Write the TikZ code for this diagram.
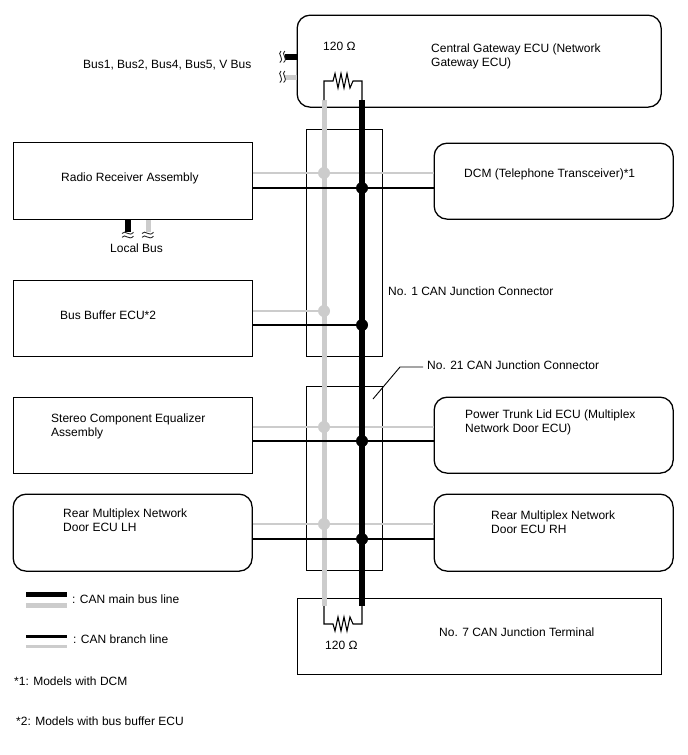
\documentclass[tikz,border=0pt]{standalone}
\usepackage{fontspec}
\setmainfont{Liberation Sans}
\newcommand{\wavesH}[2]{\foreach \d in {0,3.8}{\draw[wavemark] (#1-6,#2+\d) .. controls (#1-3,#2+\d-4.5) and (#1+1,#2+\d+4) .. (#1+5.5,#2+\d-1.2);}}
\newcommand{\wavesV}[2]{\foreach \d in {0,3.8}{\draw[wavemark] (#1+\d,#2-6) .. controls (#1+\d-4.5,#2-3) and (#1+\d+4,#2+1) .. (#1+\d-1.2,#2+5.5);}}
\tikzset{
  x=1pt,y=-1pt,
  boxnode/.style={draw=black,line width=1.3pt,inner sep=0pt,anchor=north west},
  ecu/.style={boxnode,rounded corners=13pt},
  txt/.style={font=\fontsize{12}{14}\selectfont,anchor=base west,inner sep=0pt,align=left},
  junction/.style={boxnode},
  mainblack/.style={line width=6pt,black},
  maingray/.style={line width=5pt,busgray},
  branchblack/.style={line width=2.6pt,black},
  branchgray/.style={line width=2.6pt,busgray},
  resline/.style={line width=1.1pt,black},
  wavemark/.style={line width=.9pt,black!85},
  leader/.style={line width=.9pt,black},
  dotb/.style={circle,fill=black,inner sep=0pt,minimum size=12pt},
  dotg/.style={circle,fill=busgray,inner sep=0pt,minimum size=12pt},
}
\definecolor{busgray}{HTML}{CCCCCC}
\begin{document}
\begin{tikzpicture}
\useasboundingbox (0,0) rectangle (688,755);
% junction connectors
\node[junction,minimum width=76pt,minimum height=227pt] (jone) at (305.5,129) {};
\node[junction,minimum width=76pt,minimum height=184pt] (jtwo) at (305.5,386) {};
% ECU boxes
\node[ecu,minimum width=364pt,minimum height=92pt] (gateway) at (296.5,14.5) {};
\node[boxnode,minimum width=239pt,minimum height=77pt] (radio) at (12.5,141.5) {};
\node[ecu,minimum width=239pt,minimum height=76pt] (dcm) at (433.5,142.5) {};
\node[boxnode,minimum width=239pt,minimum height=76pt] (buffer) at (12.5,279.5) {};
\node[boxnode,minimum width=239pt,minimum height=76pt] (stereo) at (12.5,396.5) {};
\node[ecu,minimum width=239pt,minimum height=76pt] (trunk) at (433.5,396.5) {};
\node[ecu,minimum width=239pt,minimum height=77pt] (rearl) at (12.5,493.5) {};
\node[ecu,minimum width=239pt,minimum height=77pt] (rearr) at (433.5,493.5) {};
\node[boxnode,minimum width=364pt,minimum height=76pt] (term) at (296.5,597.5) {};
% bus end points
\coordinate (gtop) at (324,100);
\coordinate (btop) at (362,100);
\coordinate (gbot) at (324,606);
\coordinate (bbot) at (362,606);
% main bus
\draw[maingray] (gtop) -- (gbot);
% junction dots
\node[dotg] (g1) at (324,173) {};
\node[dotg] (g2) at (324,311) {};
\node[dotg] (g3) at (324,427) {};
\node[dotg] (g4) at (324,524) {};
\draw[branchgray] (radio.east |- g1) -- (dcm.west |- g1);
\draw[branchgray] (buffer.east |- g2) -- (g2);
\draw[branchgray] (stereo.east |- g3) -- (trunk.west |- g3);
\draw[branchgray] (rearl.east |- g4) -- (rearr.west |- g4);
\draw[mainblack] (btop) -- (bbot);
\node[dotb] (b1) at (362,188) {};
\node[dotb] (b2) at (362,325) {};
\node[dotb] (b3) at (362,441) {};
\node[dotb] (b4) at (362,539) {};
\draw[branchblack] (radio.east |- b1) -- (dcm.west |- b1);
\draw[branchblack] (buffer.east |- b2) -- (b2);
\draw[branchblack] (stereo.east |- b3) -- (trunk.west |- b3);
\draw[branchblack] (rearl.east |- b4) -- (rearr.west |- b4);
% resistors
\draw[resline] (gtop) -- (324,81) -- (333,81) -- (335,73.5) -- (338,88) -- (341,73.5) -- (344,88) -- (347,73.5) -- (350,88) -- (353,81) -- (362,81) -- (btop);
\draw[resline] (gbot) -- (324,624) -- (333,624) -- (335,631) -- (338,617) -- (341,631) -- (344,617) -- (347,631) -- (350,617) -- (353,624) -- (362,624) -- (bbot);
% bus stubs
\coordinate (sb) at (285,57);
\coordinate (sg) at (285,77);
\draw[line width=6pt,black] (gateway.west |- sb) -- (sb);
\draw[line width=5pt,busgray] (gateway.west |- sg) -- (sg);
\wavesV{281}{57}
\wavesV{281}{77}
\coordinate (lb) at (128,232);
\coordinate (lg) at (148,232);
\draw[mainblack] (radio.south -| lb) -- (lb);
\draw[maingray] (radio.south -| lg) -- (lg);
\wavesH{128}{233.5}
\wavesH{148}{233.5}
% leader
\coordinate (la) at (373,399);
\coordinate (lc) at (400,367);
\coordinate (ld) at (423,367);
\draw[leader] (la) -- (lc) -- (ld);
% legend
\coordinate (k1a) at (26,594.5); \coordinate (k1b) at (67,594.5);
\coordinate (k2a) at (26,605.5); \coordinate (k2b) at (67,605.5);
\coordinate (k3a) at (26,636.5); \coordinate (k3b) at (67,636.5);
\coordinate (k4a) at (26,646.5); \coordinate (k4b) at (67,646.5);
\draw[line width=5pt,black] (k1a) -- (k1b);
\draw[line width=5pt,busgray] (k2a) -- (k2b);
\draw[branchblack] (k3a) -- (k3b);
\draw[branchgray] (k4a) -- (k4b);
% texts
\node[txt] (t21) at (427,369) {No. 21 CAN Junction Connector};
\node[txt] (t120a) at (323,50) {120 Ω};
\node[txt] (tcg1) at (431,52) {Central Gateway ECU (Network};
\node[txt] (tcg2) at (431,66) {Gateway ECU)};
\node[txt] (tbus) at (83,68) {Bus1, Bus2, Bus4, Bus5, V Bus};
\node[txt] (trad) at (61,181) {Radio Receiver Assembly};
\node[txt] (tdcm) at (464,177) {DCM (Telephone Transceiver)*1};
\node[txt] (tloc) at (110,252) {Local Bus};
\node[txt] (tj1) at (388,295) {No. 1 CAN Junction Connector};
\node[txt] (tbuf) at (60,319) {Bus Buffer ECU*2};
\node[txt] (tst1) at (51,422) {Stereo Component Equalizer};
\node[txt] (tst2) at (51,436) {Assembly};
\node[txt] (tpw1) at (465,418) {Power Trunk Lid ECU (Multiplex};
\node[txt] (tpw2) at (465,432) {Network Door ECU)};
\node[txt] (tl1) at (63,517) {Rear Multiplex Network};
\node[txt] (tl2) at (63,531) {Door ECU LH};
\node[txt] (tr1) at (491,519) {Rear Multiplex Network};
\node[txt] (tr2) at (491,533) {Door ECU RH};
\node[txt] (tk1) at (72,603) {: CAN main bus line};
\node[txt] (tk2) at (73,643) {: CAN branch line};
\node[txt] (t120b) at (325,649) {120 Ω};
\node[txt] (tno7) at (439,636) {No. 7 CAN Junction Terminal};
\node[txt] (tn1) at (14,685) {*1: Models with DCM};
\node[txt] (tn2) at (16,725) {*2: Models with bus buffer ECU};
\end{tikzpicture}
\end{document}
